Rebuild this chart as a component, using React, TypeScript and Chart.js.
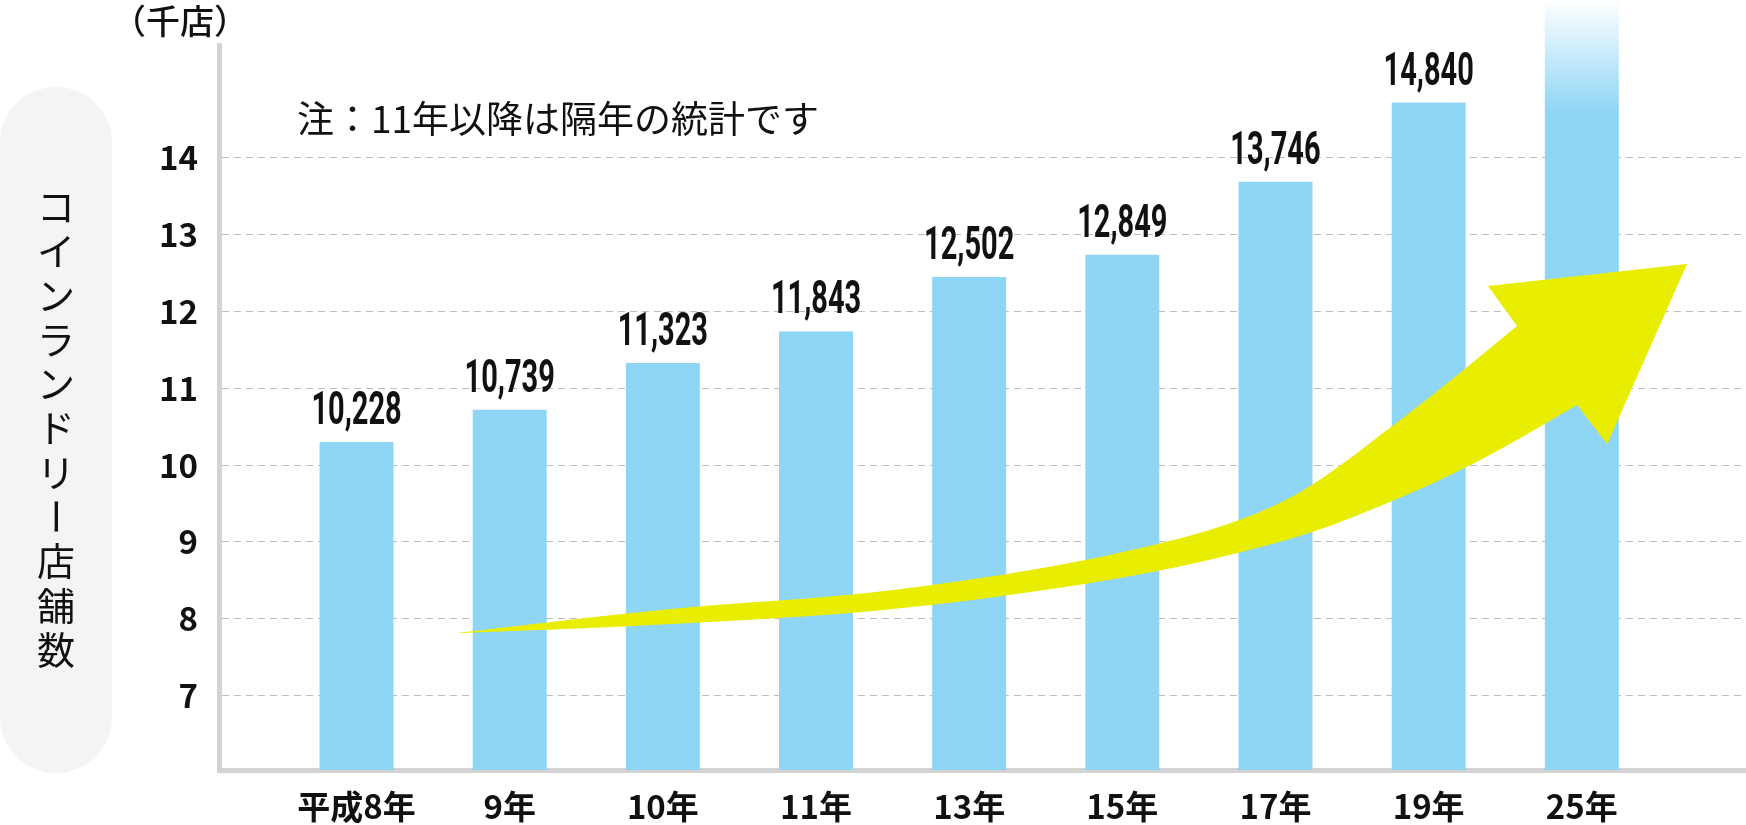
import React, { useEffect, useRef } from 'react';
import { Chart, registerables } from 'chart.js';

Chart.register(...registerables);

// ---- data ----
const categories = ['平成8年', '9年', '10年', '11年', '13年', '15年', '17年', '19年', '25年'];
// store counts printed above the bars
const storeCounts: (number | null)[] = [10228, 10739, 11323, 11843, 12502, 12849, 13746, 14840, null];
// bar heights as drawn in the picture, thousand stores (25年 bar runs off the top)
const barValues = [10.3, 10.72, 11.33, 11.74, 12.45, 12.74, 13.69, 14.72, 16.06];
const yTicks = [7, 8, 9, 10, 11, 12, 13, 14];
const axisTitle = 'コインランドリー店舗数';
const unitLabel = '（千店）';
const noteText = '注：11年以降は隔年の統計です';

// decorative growth arrow, in chart units (x: category index, y: thousand stores)
const arrowUpperEdge: [number, number][] = [
  [0.647, 7.811], [2.031, 8.123], [3.488, 8.371], [4.938, 8.84], [5.996, 9.478], [6.812, 10.585], [7.577, 11.81],
];
const arrowHead: [number, number][] = [[7.387, 12.331], [8.687, 12.617], [8.165, 10.273]];
const arrowLowerEdge: [number, number][] = [
  [7.969, 10.781], [7.335, 10.064], [6.681, 9.465], [5.996, 8.983], [4.938, 8.514], [3.488, 8.123], [2.031, 7.928], [0.647, 7.811],
];

const BAR_COLOR = '#8fd5f6';
const ARROW_COLOR = '#e9ee00';
const TEXT_COLOR = '#111111';
const CJK = '"Noto Sans CJK JP", "Noto Sans", sans-serif';

function catmull(ctx: CanvasRenderingContext2D, pts: [number, number][], moveFirst: boolean) {
  if (moveFirst) ctx.moveTo(pts[0][0], pts[0][1]);
  else ctx.lineTo(pts[0][0], pts[0][1]);
  for (let i = 0; i < pts.length - 1; i++) {
    const p0 = pts[Math.max(i - 1, 0)];
    const p1 = pts[i];
    const p2 = pts[i + 1];
    const p3 = pts[Math.min(i + 2, pts.length - 1)];
    const c1x = p1[0] + (p2[0] - p0[0]) / 6;
    const c1y = p1[1] + (p2[1] - p0[1]) / 6;
    const c2x = p2[0] - (p3[0] - p1[0]) / 6;
    const c2y = p2[1] - (p3[1] - p1[1]) / 6;
    ctx.bezierCurveTo(c1x, c1y, c2x, c2y, p2[0], p2[1]);
  }
}

export default function App() {
  const ref = useRef<HTMLCanvasElement>(null);

  useEffect(() => {
    document.body.style.margin = '0';
    const canvas = ref.current!;

    const decor = {
      id: 'decor',
      beforeDraw(chart: any) {
        const ctx: CanvasRenderingContext2D = chart.ctx;
        ctx.save();
        // rounded pill behind the vertical axis title
        ctx.fillStyle = '#f4f4f4';
        ctx.beginPath();
        (ctx as any).roundRect(0, 87, 112, 686, 56);
        ctx.fill();
        // vertical axis title
        ctx.fillStyle = TEXT_COLOR;
        ctx.font = `38px ${CJK}`;
        ctx.textAlign = 'center';
        ctx.textBaseline = 'middle';
        const chars = Array.from(axisTitle);
        const step = 44.3;
        const start = 428 - (step * (chars.length - 1)) / 2;
        chars.forEach((c, i) => {
          const yy = start + i * step;
          if (c === 'ー') {
            ctx.save();
            ctx.translate(56, yy);
            ctx.rotate(Math.PI / 2);
            ctx.fillText(c, 0, 0);
            ctx.restore();
          } else {
            ctx.fillText(c, 56, yy);
          }
        });
        // unit label
        ctx.textAlign = 'left';
        ctx.font = `500 34px ${CJK}`;
        ctx.fillText(unitLabel, 112, 21);
        // note
        ctx.font = `37px ${CJK}`;
        ctx.fillText(noteText, 297, 119);
        ctx.restore();
      },
      afterDatasetsDraw(chart: any) {
        const ctx: CanvasRenderingContext2D = chart.ctx;
        const xs = chart.scales.x;
        const ys = chart.scales.y;
        const px = (p: [number, number]): [number, number] => [xs.getPixelForValue(p[0]), ys.getPixelForValue(p[1])];
        // arrow
        ctx.save();
        ctx.fillStyle = ARROW_COLOR;
        ctx.beginPath();
        catmull(ctx, arrowUpperEdge.map(px), true);
        arrowHead.map(px).forEach((p) => ctx.lineTo(p[0], p[1]));
        catmull(ctx, arrowLowerEdge.map(px), false);
        ctx.closePath();
        ctx.fill();
        ctx.restore();
        // value labels (condensed)
        const meta = chart.getDatasetMeta(0);
        meta.data.forEach((bar: any, i: number) => {
          const v = storeCounts[i];
          if (v == null) return;
          ctx.save();
          ctx.translate(bar.x, bar.y - 18);
          ctx.scale(0.63, 1);
          ctx.font = 'bold 46px Roboto, "Liberation Sans", sans-serif';
          ctx.textAlign = 'center';
          ctx.textBaseline = 'alphabetic';
          ctx.fillStyle = TEXT_COLOR;
          ctx.fillText(v.toLocaleString('en-US'), 0, 0);
          ctx.restore();
        });
      },
    };

    const chart = new Chart(canvas, {
      type: 'bar',
      data: {
        datasets: [
          {
            data: categories.map((_, i) => ({ x: i, y: barValues[i] })),
            backgroundColor: (c: any) => {
              if (c.dataIndex !== categories.length - 1) return BAR_COLOR;
              const ch = c.chart;
              const ys = ch.scales?.y;
              const top = ys ? ys.getPixelForValue(barValues[c.dataIndex]) : 0;
              const g = ch.ctx.createLinearGradient(0, top, 0, top + 112);
              g.addColorStop(0, '#ffffff');
              g.addColorStop(1, BAR_COLOR);
              return g;
            },
            borderWidth: 0,
            barPercentage: 0.483,
            categoryPercentage: 1,
            clip: { left: 0, right: 0, bottom: 0, top: false } as any,
          },
        ],
      },
      options: {
        responsive: false,
        devicePixelRatio: 1,
        animation: false,
        layout: { padding: { top: 45, left: 0, right: 0, bottom: 0 } },
        plugins: { legend: { display: false }, tooltip: { enabled: false } },
        scales: {
          x: {
            type: 'linear',
            offset: false,
            min: -0.898,
            max: 9.072,
            grid: { display: false, drawTicks: false, offset: false },
            border: { display: true, color: '#d3d3d3', width: 5 },
            afterBuildTicks: (s: any) => {
              s.ticks = categories.map((_, i) => ({ value: i }));
            },
            afterFit: (s: any) => {
              s.height = 55;
            },
            ticks: {
              autoSkip: false,
              maxRotation: 0,
              padding: 17,
              color: TEXT_COLOR,
              font: { family: CJK, size: 33, weight: 'bold' },
              callback: (v: any) => categories[v] ?? '',
            },
          },
          y: {
            type: 'linear',
            min: 6.03,
            max: 15.47,
            afterBuildTicks: (s: any) => {
              s.ticks = yTicks.map((v) => ({ value: v }));
            },
            afterFit: (s: any) => {
              s.width = 219;
            },
            grid: { color: '#bdbdbd', lineWidth: 1, drawTicks: false },
            border: { display: true, color: '#d3d3d3', width: 5, dash: [7, 5] },
            ticks: {
              padding: 21,
              color: TEXT_COLOR,
              font: { family: CJK, size: 33, weight: 'bold' },
            },
          },
        },
      } as any,
      plugins: [decor],
    });

    let alive = true;
    Promise.all([
      document.fonts.load(`37px "Noto Sans CJK JP"`),
      document.fonts.load(`bold 33px "Noto Sans CJK JP"`),
      document.fonts.load(`bold 46px Roboto`),
    ])
      .catch(() => null)
      .then(() => {
        if (alive) chart.update();
      });

    return () => {
      alive = false;
      chart.destroy();
    };
  }, []);

  return <canvas ref={ref} width={1746} height={825} style={{ display: 'block' }} />;
}
